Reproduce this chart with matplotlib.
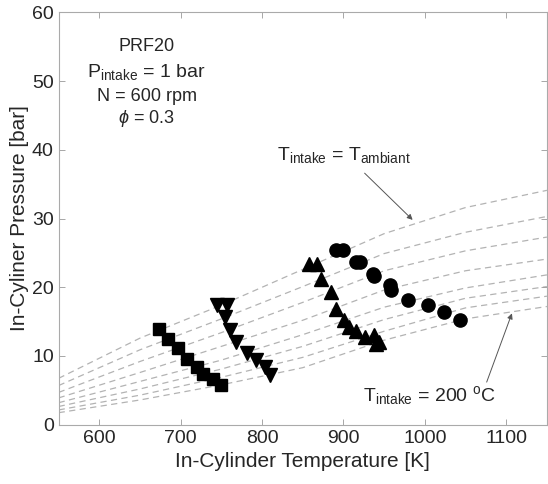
import numpy as np
import matplotlib
matplotlib.use("Agg")
import matplotlib.pyplot as plt

plt.rcParams['font.family'] = ['Liberation Sans', 'DejaVu Sans']
plt.rcParams['mathtext.fontset'] = 'custom'
plt.rcParams['mathtext.rm'] = 'Liberation Sans'
plt.rcParams['mathtext.it'] = 'Liberation Sans:italic'

# dashed compression curves, T_intake = ambiant (top) ... 200 C (bottom)
curve_T = [550, 650, 750, 850, 950, 1050, 1150]
curves_P = [
    [6.75, 12.6, 17.4, 22.6, 27.8, 31.6, 34.1],
    [5.7, 10.9, 15.4, 20.1, 24.9, 28.0, 30.3],
    [4.7, 9.2, 13.4, 17.8, 22.4, 25.3, 27.3],
    [3.9, 7.6, 11.4, 15.2, 19.6, 22.4, 24.1],
    [3.2, 6.3, 9.4, 13.1, 17.1, 19.9, 21.8],
    [2.65, 5.2, 8.1, 11.4, 15.3, 18.4, 20.1],
    [2.15, 4.3, 6.9, 9.8, 13.6, 17.0, 18.7],
    [1.75, 3.6, 5.8, 8.3, 12.3, 15.4, 17.2],
]

# measured points
sq_T = [673, 685, 697, 708, 720, 728, 740, 749]
sq_P = [13.9, 12.5, 11.2, 9.6, 8.4, 7.4, 6.7, 5.8]
dn_T = [745, 757, 755, 761, 768, 781, 792, 804, 810]
dn_P = [17.4, 17.4, 15.6, 13.8, 12.1, 10.4, 9.4, 8.4, 7.2]
up_T = [858, 868, 873, 885, 891, 901, 907, 916, 926, 938, 940, 944]
up_P = [23.4, 23.4, 21.2, 19.3, 16.9, 15.2, 14.2, 13.7, 12.8, 13.0, 11.8, 12.1]
ci_T = [891, 899, 916, 920, 936, 938, 957, 959, 979, 1004, 1024, 1043]
ci_P = [25.4, 25.4, 23.7, 23.7, 22.0, 21.7, 20.3, 19.6, 18.1, 17.4, 16.4, 15.2]

xticks = [600, 700, 800, 900, 1000, 1100]
yticks = [0, 10, 20, 30, 40, 50, 60]

txt = '#262626'
fig = plt.figure(figsize=(5.48, 4.84), dpi=100)
ax = fig.add_axes([0.107, 0.1225, 0.891, 0.852])

for P in curves_P:
    ax.plot(curve_T, P, color='#b3b3b3', lw=0.9, dashes=(5, 3.5), zorder=1)

ax.plot(sq_T, sq_P, 's', color='black', ms=8.5, zorder=3)
ax.plot(dn_T, dn_P, 'v', color='black', ms=10, zorder=3)
ax.plot(up_T, up_P, '^', color='black', ms=10, zorder=3)
ax.plot(ci_T, ci_P, 'o', color='black', ms=9.5, zorder=3)

ax.set_xlim(550, 1150)
ax.set_ylim(0, 60)
ax.set_xticks(xticks)
ax.set_yticks(yticks)
ax.tick_params(direction='in', top=True, right=True, labelsize=14,
               colors='#999999', labelcolor=txt, length=4, width=0.6)
for s in ax.spines.values():
    s.set_color('#aaaaaa')
    s.set_linewidth(0.8)

ax.set_xlabel('In-Cylinder Temperature [K]', fontsize=15, color=txt, labelpad=4)
ax.set_ylabel('In-Cyliner Pressure [bar]', fontsize=15, color=txt, labelpad=2)

ax.text(658, 55.0, 'PRF20', fontsize=13, ha='center', va='center', color=txt)
ax.text(658, 51.3, r'P$_{\mathrm{intake}}$ = 1 bar', fontsize=14, ha='center', va='center', color=txt)
ax.text(658, 47.7, 'N = 600 rpm', fontsize=13, ha='center', va='center', color=txt)
ax.text(658, 44.6, r'$\phi$ = 0.3', fontsize=13, ha='center', va='center', color=txt)

arrow = dict(arrowstyle='-|>', color='#555555', lw=0.7, mutation_scale=8, shrinkA=0, shrinkB=0)
ax.text(900, 39.3, r'T$_{\mathrm{intake}}$ = T$_{\mathrm{ambiant}}$', fontsize=14,
        ha='center', va='center', color=txt)
ax.annotate('', xy=(985, 29.8), xytext=(926, 36.6), arrowprops=arrow)
ax.text(1006, 4.3, r'T$_{\mathrm{intake}}$ = 200 $^{\mathrm{o}}$C', fontsize=14,
        ha='center', va='center', color=txt)
ax.annotate('', xy=(1107, 16.2), xytext=(1076, 6.2), arrowprops=arrow)

fig.savefig('out.png', dpi=100)
